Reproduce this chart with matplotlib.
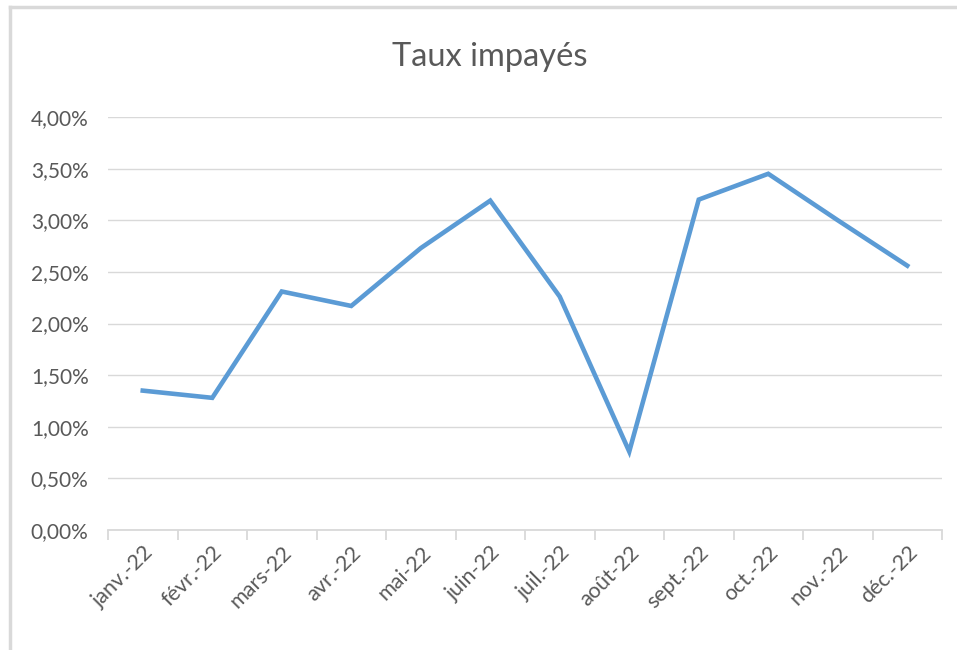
import numpy as np
import matplotlib; matplotlib.use("Agg")
import matplotlib.pyplot as plt
from matplotlib.lines import Line2D
from matplotlib.ticker import FuncFormatter, FixedLocator

plt.rcParams["font.family"] = ["Lato", "DejaVu Sans"]

months = ["janv.-22", "févr.-22", "mars-22", "avr.-22", "mai-22", "juin-22",
          "juil.-22", "août-22", "sept.-22", "oct.-22", "nov.-22", "déc.-22"]
taux = [1.35, 1.28, 2.31, 2.17, 2.73, 3.19, 2.26, 0.76, 3.20, 3.45, 3.00, 2.56]
yticks = [0.0, 0.5, 1.0, 1.5, 2.0, 2.5, 3.0, 3.5, 4.0]

TXT = "#595959"
GRID = "#d9d9d9"

fig = plt.figure(figsize=(9.57, 6.5), dpi=100)
ax = fig.add_axes([108 / 957, 1 - 530 / 650, 834 / 957, 413 / 650])

x = np.arange(len(months))
ax.plot(x, taux, color="#5B9BD5", lw=3.3, solid_joinstyle="miter", zorder=3)

ax.set_xlim(-0.5, len(months) - 0.5)
ax.set_ylim(0, 4)
ax.set_yticks(yticks)
ax.yaxis.set_major_formatter(FuncFormatter(lambda v, _: f"{v:.2f}".replace(".", ",") + "%"))
ax.grid(axis="y", color=GRID, lw=1)
ax.set_axisbelow(True)

ax.set_xticks(x)
ax.set_xticklabels(months, rotation=45, ha="right", rotation_mode="anchor", color=TXT, fontsize=15.5)
ax.xaxis.set_minor_locator(FixedLocator(np.arange(-0.5, len(months), 1)))
ax.tick_params(axis="x", which="major", length=0, pad=9)
ax.tick_params(axis="x", which="minor", length=7, color=GRID, width=1.3)
ax.tick_params(axis="y", length=0, pad=14, labelcolor=TXT, labelsize=15)

for s in ["top", "right", "left"]:
    ax.spines[s].set_visible(False)
ax.spines["bottom"].set_color(GRID)
ax.spines["bottom"].set_linewidth(1.3)

fig.text(490 / 957, 1 - 57 / 650, "Taux impayés", ha="center", va="center", fontsize=23.5, color=TXT)

# chart frame (top and left edges visible in the screenshot)
fig.add_artist(Line2D([10 / 957, 1], [1 - 7 / 650, 1 - 7 / 650], color=GRID, lw=2.5, transform=fig.transFigure))
fig.add_artist(Line2D([10 / 957, 10 / 957], [0, 1 - 7 / 650], color=GRID, lw=2.5, transform=fig.transFigure))

fig.savefig("out.png", dpi=100)
